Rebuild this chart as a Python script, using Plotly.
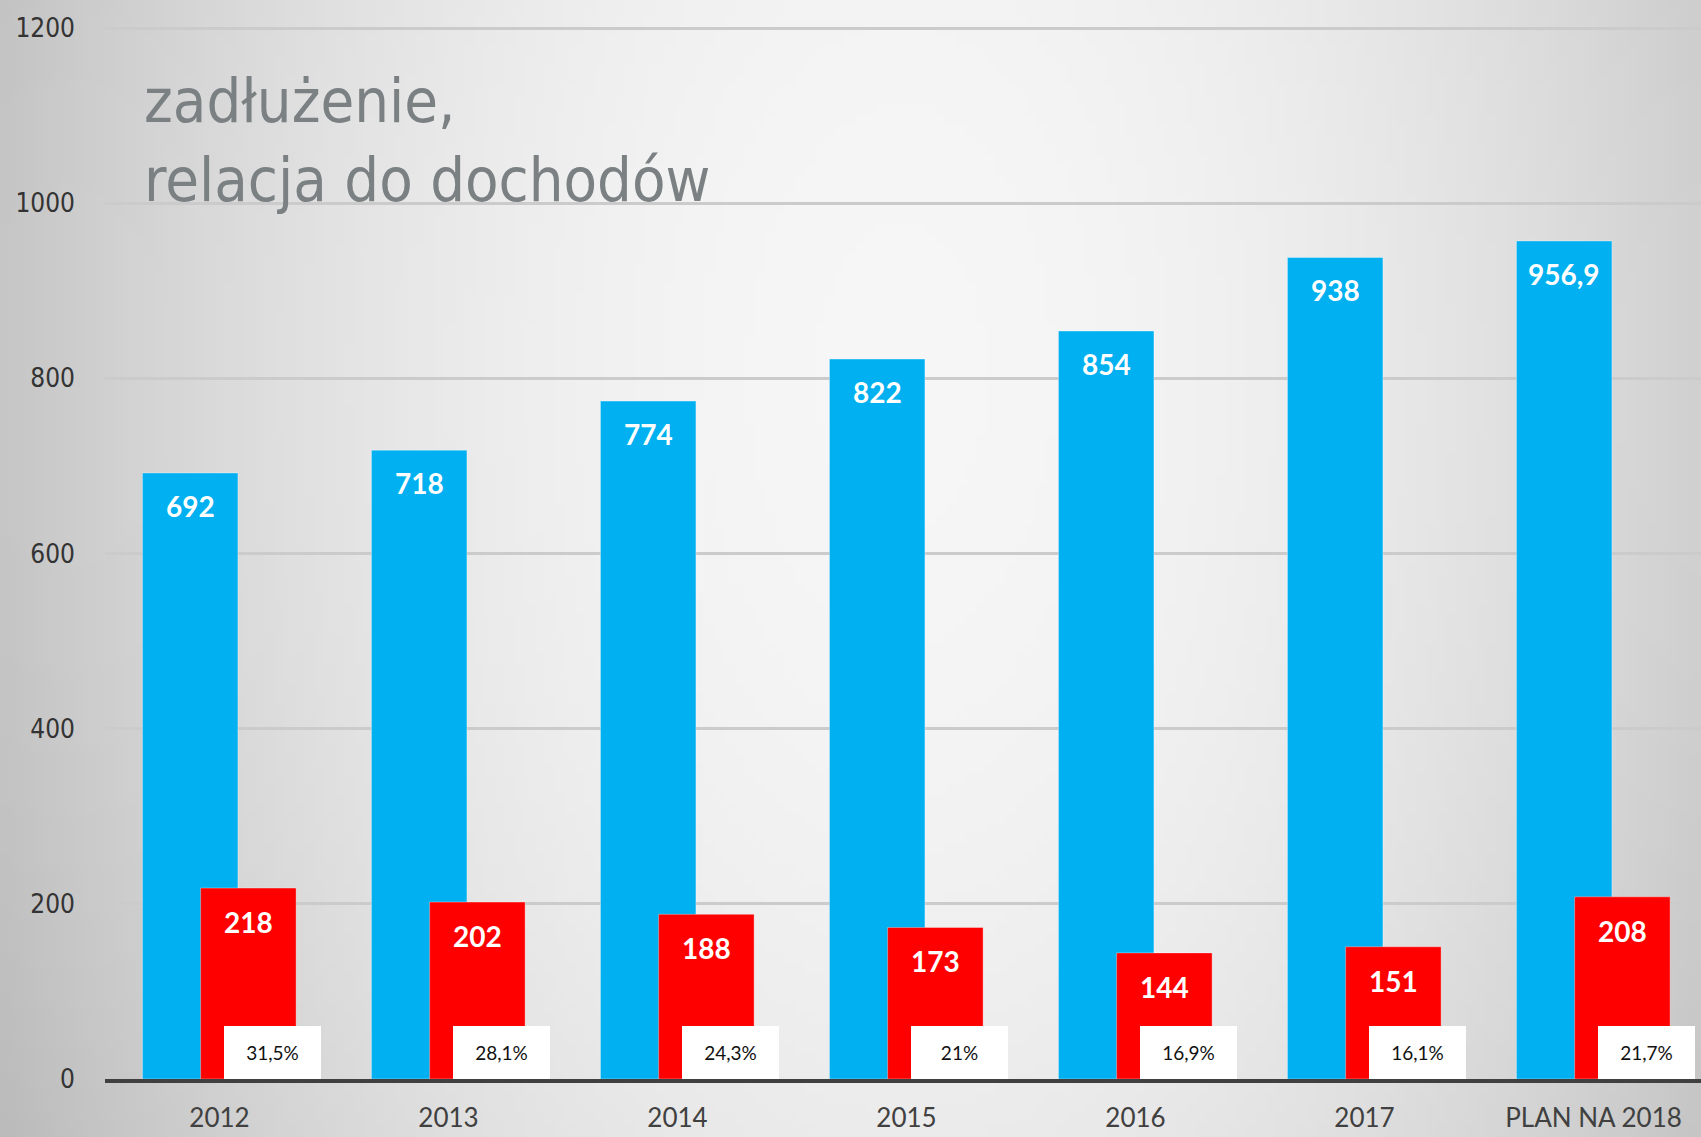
import base64, struct, zlib
import plotly.graph_objects as go

# ---------------- data ----------------
categories = ["2012", "2013", "2014", "2015", "2016", "2017", "PLAN NA 2018"]
debt = [692, 718, 774, 822, 854, 938, 956.9]          # zadłużenie
debt_other = [218, 202, 188, 173, 144, 151, 208]       # red series
ratio_pct = [31.5, 28.1, 24.3, 21, 16.9, 16.1, 21.7]   # relacja do dochodów (%)
y_ticks = [0, 200, 400, 600, 800, 1000, 1200]
title_lines = ["zadłużenie,", "relacja do dochodów"]


def pl(v):
    return ("%g" % v).replace(".", ",")


# ---------------- figure geometry ----------------
W, H = 1701, 1137
ML, MR, MT, MB = 105, 0, 0, 58
plot_w = W - ML - MR
plot_h = H - MT - MB

BLUE = "#00B0F0"
RED = "#FF0000"
BAR_W = 0.417
BLUE_C = -0.128
RED_C = 0.126
BOX_C = 0.232

# ---------------- background gradient (style only) ----------------
def gradient_png(w, h):
    rows = []
    for j in range(h):
        yy = j / (h - 1)
        row = bytearray()
        for i in range(w):
            xx = i / (w - 1)
            dx = (xx - 0.53) / 0.53
            dy = (yy - 0.33) / 1.4
            d2 = dx * dx + dy * dy
            v = 246 - 48 * d2
            v = max(170, min(248, int(round(v))))
            row.append(v)
        rows.append(b"\x00" + bytes(row))
    raw = b"".join(rows)

    def chunk(t, d):
        c = struct.pack(">I", len(d)) + t + d
        return c + struct.pack(">I", zlib.crc32(t + d) & 0xFFFFFFFF)

    png = b"\x89PNG\r\n\x1a\n"
    png += chunk(b"IHDR", struct.pack(">IIBBBBB", w, h, 8, 0, 0, 0, 0))
    png += chunk(b"IDAT", zlib.compress(raw, 9))
    png += chunk(b"IEND", b"")
    return "data:image/png;base64," + base64.b64encode(png).decode()


bg = gradient_png(170, 114)

x_pos = list(range(len(categories)))

fig = go.Figure()
fig.add_trace(go.Bar(
    x=x_pos, y=debt, width=BAR_W, offset=BLUE_C - BAR_W / 2,
    marker=dict(color=BLUE, line=dict(color="rgba(255,255,255,0.35)", width=1)),
    hoverinfo="y", name="zadłużenie",
))
fig.add_trace(go.Bar(
    x=x_pos, y=debt_other, width=BAR_W, offset=RED_C - BAR_W / 2,
    marker=dict(color=RED, line=dict(color="rgba(255,255,255,0.35)", width=1)),
    hoverinfo="y", name="",
))

annotations = []
for i, v in enumerate(debt):
    annotations.append(dict(
        x=i + BLUE_C, y=v, xref="x", yref="y", text="<b>%s</b>" % pl(v),
        showarrow=False, yanchor="middle", yshift=-33,
        font=dict(family="Lato, Open Sans, sans-serif", size=28, color="white"),
    ))
for i, v in enumerate(debt_other):
    annotations.append(dict(
        x=i + RED_C, y=v, xref="x", yref="y", text="<b>%s</b>" % pl(v),
        showarrow=False, yanchor="middle", yshift=-34,
        font=dict(family="Lato, Open Sans, sans-serif", size=28, color="white"),
    ))
for i, p in enumerate(ratio_pct):
    annotations.append(dict(
        x=i + BOX_C, y=0, xref="x", yref="y", text=pl(p) + "%",
        showarrow=False, yanchor="bottom", xanchor="center",
        width=97, height=53, bgcolor="white", borderpad=0, borderwidth=0,
        align="center", valign="middle",
        font=dict(family="Lato, Open Sans, sans-serif", size=19, color="#111111"),
    ))
# title
title_font = dict(family="DejaVu Sans Condensed, sans-serif", size=61, color="#7B8083")
annotations.append(dict(
    x=(142 - ML) / plot_w, y=1 - 138 / plot_h, xref="paper", yref="paper",
    text=title_lines[0], showarrow=False, xanchor="left", yanchor="bottom",
    font=title_font,
))
annotations.append(dict(
    x=(142 - ML) / plot_w, y=1 - 217 / plot_h, xref="paper", yref="paper",
    text=title_lines[1], showarrow=False, xanchor="left", yanchor="bottom",
    font=title_font,
))

fig.update_layout(
    width=W, height=H, autosize=False,
    margin=dict(l=ML, r=MR, t=MT, b=MB, pad=0, autoexpand=False),
    paper_bgcolor="#d9d9d9", plot_bgcolor="rgba(0,0,0,0)",
    barmode="overlay", showlegend=False,
    annotations=annotations,
    images=[dict(
        source=bg, xref="paper", yref="paper",
        x=-ML / plot_w, y=1 + MT / plot_h, sizex=W / plot_w, sizey=H / plot_h,
        xanchor="left", yanchor="top", sizing="stretch", layer="below",
    )],
)
fig.update_xaxes(
    range=[-0.5, -0.5 + plot_w / 229.0], automargin=False,
    tickmode="array", tickvals=x_pos, ticktext=categories,
    ticks="", showgrid=False, zeroline=False,
    showline=True, linecolor="#404040", linewidth=4,
    ticklabelstandoff=13,
    tickfont=dict(family="Lato, Open Sans, sans-serif", size=26, color="#404040"),
)
fig.update_yaxes(
    range=[0, 1232], automargin=False, tickmode="array", tickvals=y_ticks,
    ticktext=[str(t) for t in y_ticks],
    showgrid=True, gridcolor="#cbcbcb", gridwidth=2.5,
    zeroline=False, ticks="", showline=False,
    ticklabelstandoff=29,
    tickfont=dict(family="DejaVu Sans Condensed, sans-serif", size=26, color="#333333"),
)

fig.write_html("out.html", config={"displayModeBar": False},
               post_script="document.body.style.margin='0';document.body.style.overflow='hidden';")
